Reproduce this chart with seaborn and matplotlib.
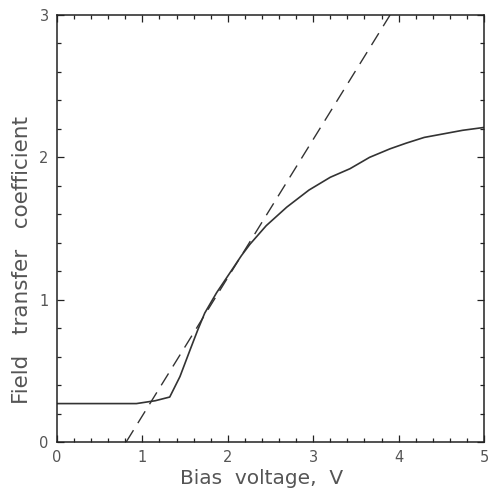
import matplotlib
matplotlib.use("Agg")
import matplotlib.pyplot as plt
import seaborn as sns
import pandas as pd
from matplotlib.ticker import MultipleLocator

# Measured curve (solid)
bias_v = [0.0, 0.5, 0.93, 1.15, 1.32, 1.44, 1.56, 1.65, 1.73, 1.87, 2.06, 2.16,
          2.26, 2.45, 2.69, 2.95, 3.20, 3.43, 3.66, 3.90, 4.09, 4.30, 4.48, 4.75, 5.0]
ftc = [0.27, 0.27, 0.27, 0.29, 0.316, 0.46, 0.65, 0.79, 0.906, 1.05, 1.22, 1.31,
       1.39, 1.52, 1.65, 1.77, 1.86, 1.92, 2.00, 2.06, 2.10, 2.14, 2.16, 2.19, 2.21]

# Linear fit (dashed)
fit_v = [0.81, 3.90]
fit_c = [0.0, 3.0]

sns.set_theme(style="ticks")
plt.rcParams['font.family'] = ['DejaVu Sans']

fig = plt.figure(figsize=(4.9, 4.92), dpi=100)
ax = fig.add_axes([0.1163, 0.1016, 0.8715, 0.8679])

df = pd.DataFrame({"v": bias_v, "c": ftc})
dfit = pd.DataFrame({"v": fit_v, "c": fit_c})
sns.lineplot(data=df, x="v", y="c", ax=ax, color="#333333", linewidth=1.2)
sns.lineplot(data=dfit, x="v", y="c", ax=ax, color="#333333", linewidth=1.0)
ax.lines[-1].set_dashes([10, 6])

ax.set_xlim(0, 5)
ax.set_ylim(0, 3)
ax.xaxis.set_major_locator(MultipleLocator(1))
ax.yaxis.set_major_locator(MultipleLocator(1))
ax.xaxis.set_minor_locator(MultipleLocator(0.2))
ax.yaxis.set_minor_locator(MultipleLocator(0.2))
ax.tick_params(which="both", direction="in", top=True, right=True,
               colors="#222222", labelcolor="#555555", width=0.9)
ax.tick_params(which="major", length=5, labelsize=10.5, pad=6)
ax.tick_params(which="minor", length=3)
for s in ax.spines.values():
    s.set_color("#222222")
    s.set_linewidth(1.1)

ax.set_xlabel("Bias  voltage,  V", fontsize=14.5, color="#555555")
ax.set_ylabel("Field   transfer   coefficient", fontsize=15.5, color="#555555")
ax.xaxis.set_label_coords(0.48, -0.063, transform=ax.transAxes)
ax.xaxis.label.set_va("top")
ax.yaxis.set_label_coords(-0.058, 0.426)

fig.savefig("out.png", dpi=100)
